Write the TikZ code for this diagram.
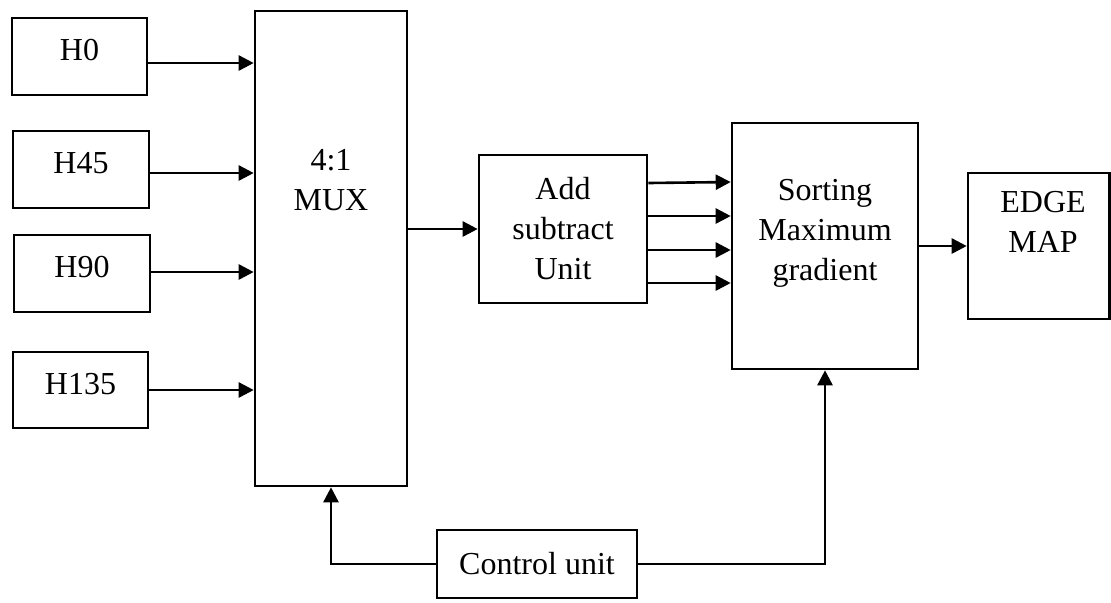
\documentclass[tikz,border=0pt]{standalone}
\usepackage{fontspec}
\setmainfont{Liberation Serif}
\usetikzlibrary{arrows.meta}
\begin{document}
\begin{tikzpicture}[x=0.5pt,y=-0.5pt,
  box/.style={draw, line width=1.3pt, inner sep=0pt, align=center, font=\fontsize{16}{20}\selectfont},
  hbox/.style={box, text depth=6.5pt},
  lbl/.style={align=center, inner sep=0pt, font=\fontsize{16}{20}\selectfont},
  arr/.style={-{Triangle[length=7.5pt,width=7.5pt]}, line width=1.3pt}]
\useasboundingbox (0,0) rectangle (1111,602);
\node[hbox, minimum width=67.5pt, minimum height=38.5pt] (h0) at (79.5,56.5) {H0};
\node[hbox, minimum width=68pt, minimum height=38.5pt] (h45) at (81,169.5) {H45};
\node[hbox, minimum width=68pt, minimum height=38.5pt] (h90) at (82,273.5) {H90};
\node[hbox, minimum width=67.5pt, minimum height=38pt] (h135) at (80.5,390) {H135};
\node[box, minimum width=76pt, minimum height=237.5pt] (mux) at (331,248.5) {};
\node[lbl] (muxt) at (331,180) {4:1\\MUX};
\node[box, minimum width=84pt, minimum height=74pt] (add) at (563,229) {Add\\subtract\\Unit};
\node[box, minimum width=93pt, minimum height=123pt] (sort) at (825,246) {};
\node[lbl] (sortt) at (825,233) {Sorting\\Maximum\\gradient};
\node[box, minimum width=70.75pt, minimum height=73pt] (edge) at (1038.75,246) {};
\node[lbl] (edget) at (1043,222) {EDGE\\MAP};
\node[box, minimum width=100pt, minimum height=34pt] (ctrl) at (537,564) {Control unit};
\draw[arr] (h0.east |- 0,63) -- (mux.west |- 0,63);
\draw[arr] (h45.east |- 0,173) -- (mux.west |- 0,173);
\draw[arr] (h90.east |- 0,272) -- (mux.west |- 0,272);
\draw[arr] (h135.east |- 0,390) -- (mux.west |- 0,390);
\draw[arr] (mux.east |- add.west) -- (add.west);
\draw[arr] (add.east |- 0,183) -- (sort.west |- 0,182);
\draw[arr] (add.east |- 0,216) -- (sort.west |- 0,216);
\draw[arr] (add.east |- 0,250) -- (sort.west |- 0,250);
\draw[arr] (add.east |- 0,283) -- (sort.west |- 0,283);
\draw[arr] (sort.east) -- (edge.west);
\draw[arr] (ctrl.west) -| (mux.south);
\draw[arr] (ctrl.east) -| (sort.south);
\end{tikzpicture}
\end{document}
